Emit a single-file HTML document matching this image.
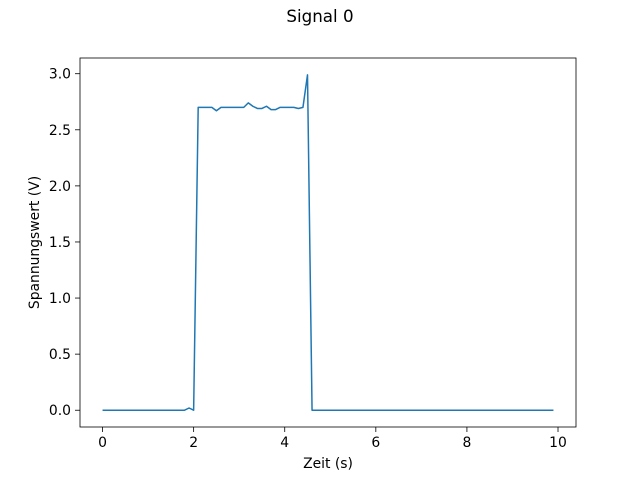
<!DOCTYPE html>
<html><head><meta charset="utf-8"><style>
body{margin:0;background:#fff;}
svg text{font-family:"DejaVu Sans","Liberation Sans",sans-serif;fill:#000;}
</style></head><body>
<svg width="640" height="480" viewBox="0 0 640 480">
<text x="320" y="22" font-size="16.7" text-anchor="middle">Signal 0</text>
<g id="xt"></g>
<g id="yt"></g>
<polyline id="line" fill="none" stroke="#1f77b4" stroke-width="1.5" stroke-linejoin="round"/>
<rect x="80" y="58" width="496" height="369" fill="none" stroke="#000" stroke-width="0.8"/>
<text x="328" y="468" font-size="13.9" text-anchor="middle">Zeit (s)</text>
<text transform="translate(39,242.5) rotate(-90)" font-size="13.9" text-anchor="middle">Spannungswert (V)</text>
</svg>
<script>
const plateau=[2.7,2.7,2.7,2.7,2.67,2.7,2.7,2.7,2.7,2.7,2.7,2.74,2.71,2.69,2.69,2.71,2.68,2.68,2.7,2.7,2.7,2.7,2.69,2.7];
const values=[0,0,0,0,0,0,0,0,0,0,0,0,0,0,0,0,0,0,0,0.02,0].concat(plateau,[2.99],new Array(54).fill(0));
const xTicks=[0,2,4,6,8,10];
const yTicks=[0.0,0.5,1.0,1.5,2.0,2.5,3.0];
const X=v=>80+(v+0.495)/10.89*496;
const Y=v=>427-(v+0.1495)/3.2895*369;
const ns="http://www.w3.org/2000/svg";
document.getElementById('line').setAttribute('points',values.map((v,i)=>X(i*0.1).toFixed(2)+','+Y(v).toFixed(2)).join(' '));
const xt=document.getElementById('xt');
xTicks.forEach(t=>{const l=document.createElementNS(ns,'line');


l.setAttribute('x1',X(t));l.setAttribute('x2',X(t));l.setAttribute('y1',427);l.setAttribute('y2',432);l.setAttribute('stroke','#000');l.setAttribute('stroke-width','0.8');xt.appendChild(l);
const s=document.createElementNS(ns,'text');


s.setAttribute('x',X(t));s.setAttribute('y',447);s.setAttribute('font-size','13.9');s.setAttribute('text-anchor','middle');s.textContent=t;xt.appendChild(s);});
const yt=document.getElementById('yt');
yTicks.forEach(t=>{const l=document.createElementNS(ns,'line');


l.setAttribute('x1',75);l.setAttribute('x2',80);l.setAttribute('y1',Y(t));l.setAttribute('y2',Y(t));l.setAttribute('stroke','#000');l.setAttribute('stroke-width','0.8');yt.appendChild(l);
const s=document.createElementNS(ns,'text');


s.setAttribute('x',71);s.setAttribute('y',Y(t)+5);s.setAttribute('font-size','13.9');s.setAttribute('text-anchor','end');s.textContent=t.toFixed(1);yt.appendChild(s);});
</script>
</body></html>
